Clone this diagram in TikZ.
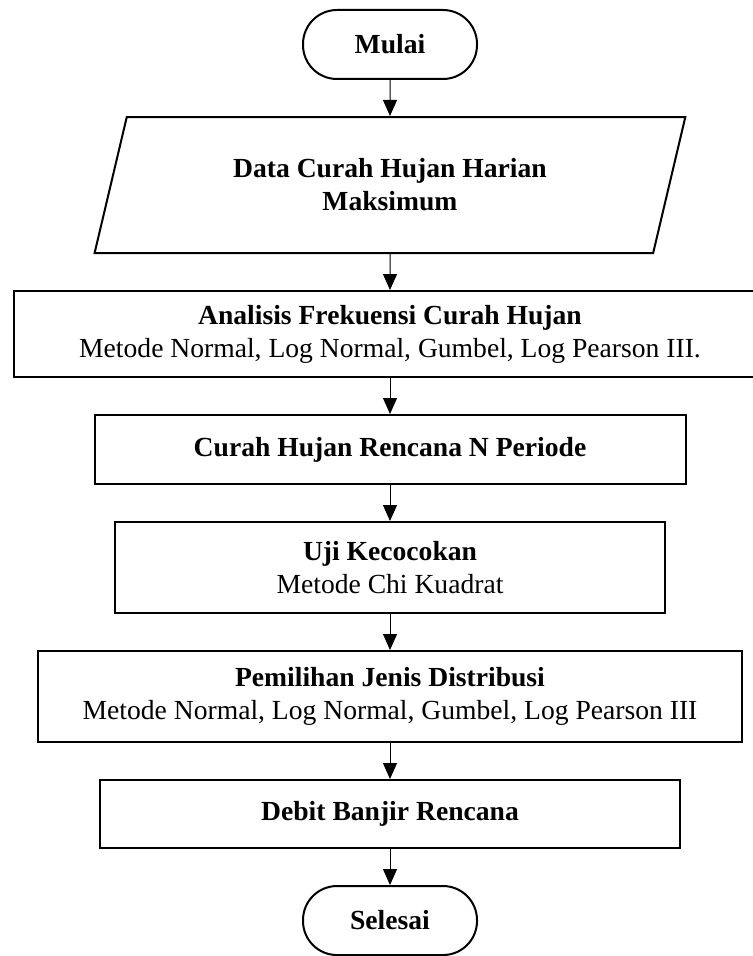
\documentclass[tikz,border=0pt]{standalone}
\usepackage{fontspec}
\setmainfont{Liberation Serif}
\usetikzlibrary{arrows.meta,positioning,shapes.geometric}

\begin{document}
\begin{tikzpicture}[
  node distance=18pt,
  base/.style={draw=black,line width=1pt,align=center,font=\fontsize{13.8}{16.5}\selectfont,inner sep=2pt},
  term/.style={base,rectangle,rounded corners=17pt,minimum width=87pt,minimum height=34.5pt},
  proc/.style={base,rectangle},
  io/.style={base,trapezium,trapezium left angle=72,trapezium right angle=108,trapezium stretches=true,minimum width=295.5pt,minimum height=68pt},
  edge/.style={-{Triangle[width=7pt,length=8pt]},line width=0.5pt}
]
\useasboundingbox (0,0) rectangle (376pt,-478pt);
\node[term] (mulai) at (195pt,-22.25pt) {\textbf{Mulai}};
\node[io,below=of mulai] (data) {\textbf{Data Curah Hujan Harian}\\\textbf{Maksimum}};
\node[proc,below=of data,minimum width=376pt,minimum height=43pt] (analisis) {\textbf{Analisis Frekuensi Curah Hujan}\\Metode Normal, Log Normal, Gumbel, Log Pearson III.};
\node[proc,below=of analisis,minimum width=295.5pt,minimum height=34.5pt] (rencana) {\textbf{Curah Hujan Rencana N Periode}};
\node[proc,below=of rencana,minimum width=275pt,minimum height=45.5pt] (uji) {\textbf{Uji Kecocokan}\\Metode Chi Kuadrat};
\node[proc,below=of uji,minimum width=352pt,minimum height=45.5pt] (pemilihan) {\textbf{Pemilihan Jenis Distribusi}\\Metode Normal, Log Normal, Gumbel, Log Pearson III};
\node[proc,below=of pemilihan,minimum width=290pt,minimum height=34pt] (debit) {\textbf{Debit Banjir Rencana}};
\node[term,below=of debit] (selesai) {\textbf{Selesai}};
\draw[edge] (mulai) -- (data);
\draw[edge] (data) -- (analisis);
\draw[edge] (analisis) -- (rencana);
\draw[edge] (rencana) -- (uji);
\draw[edge] (uji) -- (pemilihan);
\draw[edge] (pemilihan) -- (debit);
\draw[edge] (debit) -- (selesai);
\end{tikzpicture}
\end{document}
